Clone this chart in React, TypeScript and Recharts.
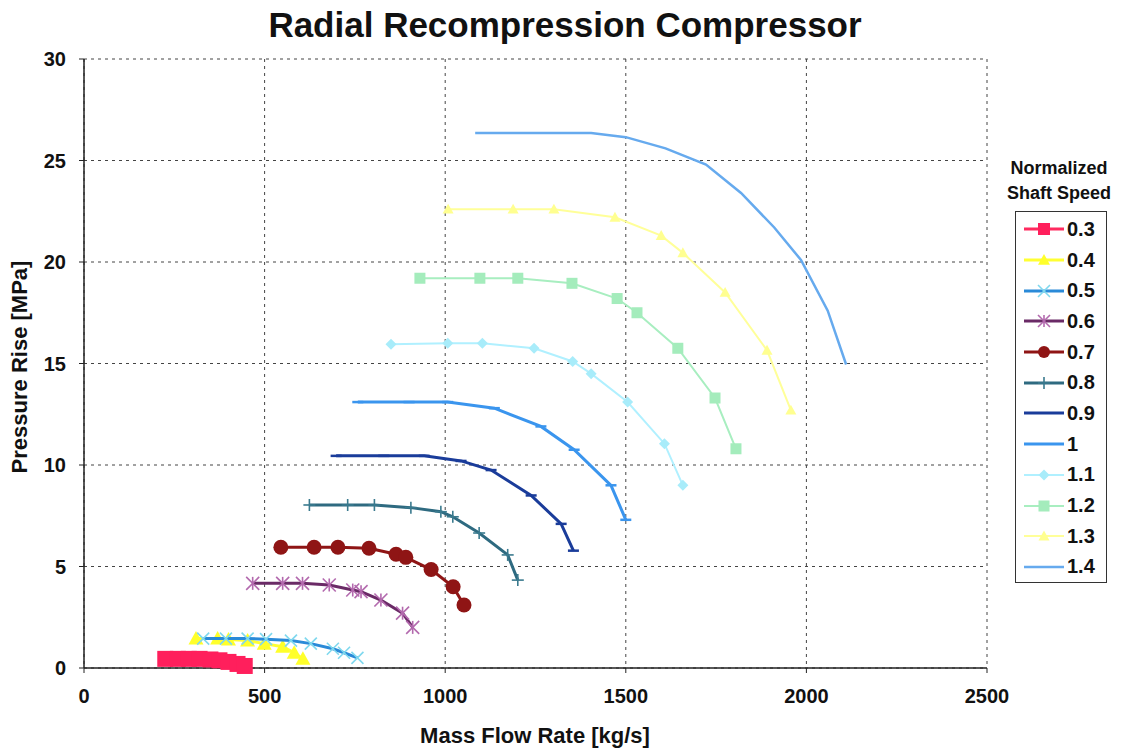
import { CartesianGrid, Scatter, ScatterChart, XAxis, YAxis } from "recharts";

const speeds = ["0.3", "0.4", "0.5", "0.6", "0.7", "0.8", "0.9", "1", "1.1", "1.2", "1.3", "1.4"];

const flow03 = [225, 260, 290, 320, 350, 375, 400, 425, 445];
const rise03 = [0.45, 0.45, 0.45, 0.45, 0.42, 0.38, 0.3, 0.2, 0.1];
const flow04 = [310, 370, 400, 453, 499, 550, 582, 606];
const rise04 = [1.45, 1.45, 1.4, 1.35, 1.2, 1.05, 0.75, 0.45];
const flow05 = [330, 393, 453, 504, 573, 628, 689, 720, 757];
const rise05 = [1.45, 1.45, 1.45, 1.42, 1.35, 1.2, 0.95, 0.75, 0.5];
const flow06 = [467, 550, 605, 679, 744, 767, 822, 882, 910];
const rise06 = [4.17, 4.17, 4.17, 4.09, 3.84, 3.76, 3.35, 2.7, 2.0];
const flow07 = [545, 637, 703, 789, 864, 891, 961, 1022, 1052];
const rise07 = [5.95, 5.95, 5.95, 5.9, 5.6, 5.45, 4.85, 4.0, 3.1];
const flow08 = [624, 730, 804, 905, 988, 1021, 1094, 1173, 1201];
const rise08 = [8.03, 8.03, 8.03, 7.9, 7.7, 7.45, 6.65, 5.57, 4.33];
const flow09 = [698, 830, 942, 1044, 1127, 1238, 1321, 1355];
const rise09 = [10.45, 10.45, 10.45, 10.2, 9.75, 8.5, 7.1, 5.78];
const flow10 = [758, 900, 1007, 1136, 1265, 1357, 1459, 1500];
const rise10 = [13.1, 13.1, 13.1, 12.8, 11.9, 10.75, 9.0, 7.3];
const flow11 = [850, 1007, 1103, 1246, 1353, 1404, 1505, 1607, 1658];
const rise11 = [15.95, 16.0, 16.0, 15.75, 15.1, 14.5, 13.1, 11.05, 9.0];
const flow12 = [930, 1096, 1201, 1351, 1476, 1531, 1644, 1747, 1805];
const rise12 = [19.2, 19.2, 19.2, 18.95, 18.2, 17.5, 15.75, 13.3, 10.8];
const flow13 = [1008, 1188, 1301, 1470, 1598, 1658, 1775, 1891, 1957];
const rise13 = [22.6, 22.6, 22.6, 22.2, 21.3, 20.45, 18.5, 15.65, 12.7];
const flow14 = [1083, 1250, 1404, 1500, 1610, 1722, 1819, 1911, 1985, 2059, 2110];
const rise14 = [26.35, 26.35, 26.35, 26.15, 25.6, 24.8, 23.4, 21.7, 20.1, 17.6, 14.95];

const flows = [flow03, flow04, flow05, flow06, flow07, flow08, flow09, flow10, flow11, flow12, flow13, flow14];
const rises = [rise03, rise04, rise05, rise06, rise07, rise08, rise09, rise10, rise11, rise12, rise13, rise14];

const xTicks = [0, 500, 1000, 1500, 2000, 2500];
const yTicks = [0, 5, 10, 15, 20, 25, 30];

type Style = { line: string; marker: string; kind: string; size: number; width: number };

const styles: Style[] = [
  { line: "#ff2a5f", marker: "#ff1f5c", kind: "square", size: 16, width: 3 },
  { line: "#ffff33", marker: "#ffff2a", kind: "triangle", size: 15, width: 3 },
  { line: "#2a8ad8", marker: "#7fd8ee", kind: "x", size: 12, width: 3 },
  { line: "#6a2a66", marker: "#b36aae", kind: "asterisk", size: 13, width: 3 },
  { line: "#8f1515", marker: "#8f1515", kind: "circle", size: 15, width: 3 },
  { line: "#2e6a80", marker: "#3a7a8e", kind: "plus", size: 12, width: 3 },
  { line: "#1a3c9a", marker: "#1a3c9a", kind: "dash", size: 11, width: 3 },
  { line: "#3a95ee", marker: "#3a95ee", kind: "dash", size: 11, width: 3 },
  { line: "#b0f0ff", marker: "#a8ecfa", kind: "diamond", size: 11, width: 2 },
  { line: "#a8eec0", marker: "#a4ecbc", kind: "square", size: 11, width: 2 },
  { line: "#ffff99", marker: "#ffff90", kind: "triangle", size: 11, width: 2 },
  { line: "#66aaee", marker: "#66aaee", kind: "none", size: 8, width: 2.5 },
];

const font = "Liberation Sans, Arial, sans-serif";

function markerSvg(kind: string, color: string, size: number, cx: number, cy: number) {
  const h = size / 2;
  switch (kind) {
    case "square":
      return <rect x={cx - h} y={cy - h} width={size} height={size} fill={color} />;
    case "triangle":
      return <polygon points={`${cx},${cy - h} ${cx + h},${cy + h * 0.8} ${cx - h},${cy + h * 0.8}`} fill={color} />;
    case "circle":
      return <circle cx={cx} cy={cy} r={h} fill={color} />;
    case "diamond":
      return <polygon points={`${cx},${cy - h} ${cx + h},${cy} ${cx},${cy + h} ${cx - h},${cy}`} fill={color} />;
    case "x":
      return (
        <g stroke={color} strokeWidth={1.6}>
          <line x1={cx - h} y1={cy - h} x2={cx + h} y2={cy + h} />
          <line x1={cx - h} y1={cy + h} x2={cx + h} y2={cy - h} />
        </g>
      );
    case "asterisk":
      return (
        <g stroke={color} strokeWidth={1.6}>
          <line x1={cx - h} y1={cy - h} x2={cx + h} y2={cy + h} />
          <line x1={cx - h} y1={cy + h} x2={cx + h} y2={cy - h} />
          <line x1={cx} y1={cy - h} x2={cx} y2={cy + h} />
        </g>
      );
    case "plus":
      return (
        <g stroke={color} strokeWidth={1.6}>
          <line x1={cx - h} y1={cy} x2={cx + h} y2={cy} />
          <line x1={cx} y1={cy - h} x2={cx} y2={cy + h} />
        </g>
      );
    case "dash":
      return <line x1={cx - h} y1={cy} x2={cx + h} y2={cy} stroke={color} strokeWidth={2.5} />;
    default:
      return <g />;
  }
}

const series = speeds.map((name, i) => ({
  name,
  style: styles[i],
  data: flows[i].map((x, j) => ({ x, y: rises[i][j] })),
}));

const tickStyle = { fontSize: 20, fontWeight: 700, fill: "#111", fontFamily: font };

function LegendBox() {
  return (
    <div style={{ position: "absolute", left: 994, top: 156, width: 130, fontFamily: font, color: "#111", fontWeight: 700 }}>
      <div style={{ textAlign: "center", fontSize: 18, lineHeight: "25px", width: 130 }}>
        Normalized
        <br />
        Shaft Speed
      </div>
      <div
        style={{
          position: "absolute",
          left: 21,
          top: 55,
          width: 92,
          height: 372,
          border: "1px solid #333",
          boxSizing: "border-box",
          paddingTop: 2,
        }}
      >
        {series.map((s) => (
          <div key={s.name} style={{ height: 30.7, display: "flex", alignItems: "center" }}>
            <svg width={44} height={20} style={{ marginLeft: 6 }}>
              <line x1={2} y1={10} x2={42} y2={10} stroke={s.style.line} strokeWidth={s.style.width} />
              {markerSvg(s.style.kind === "dash" ? "none" : s.style.kind, s.style.marker, Math.min(s.style.size, 12), 22, 10)}
            </svg>
            <span style={{ fontSize: 20, marginLeft: 1 }}>{s.name}</span>
          </div>
        ))}
      </div>
    </div>
  );
}

export default function App() {
  return (
    <div style={{ position: "absolute", left: 0, top: 0, width: 1121, height: 752, background: "#fff" }}>
      <div
        style={{
          position: "absolute",
          left: 0,
          width: 1130,
          top: 5,
          textAlign: "center",
          fontFamily: font,
          fontWeight: 700,
          fontSize: 35,
          color: "#111",
        }}
      >
        Radial Recompression Compressor
      </div>
      <div
        style={{
          position: "absolute",
          left: 385,
          width: 300,
          top: 723,
          textAlign: "center",
          fontFamily: font,
          fontWeight: 700,
          fontSize: 22,
          color: "#111",
        }}
      >
        Mass Flow Rate [kg/s]
      </div>
      <div
        style={{
          position: "absolute",
          left: 20 - 150,
          width: 300,
          top: 368 - 14,
          textAlign: "center",
          transform: "rotate(-90deg)",
          fontFamily: font,
          fontWeight: 700,
          fontSize: 22,
          color: "#111",
        }}
      >
        Pressure Rise [MPa]
      </div>
      <ScatterChart width={1121} height={752} margin={{ top: 59, right: 134, bottom: 44, left: 24 }}>
        <CartesianGrid stroke="#444" strokeDasharray="3 4" />
        <XAxis
          type="number"
          dataKey="x"
          domain={[0, 2500]}
          ticks={xTicks}
          height={40}
          tick={tickStyle}
          tickSize={5}
          tickMargin={16}
          stroke="#222"
          axisLine={{ stroke: "#222", strokeWidth: 1.5 }}
        />
        <YAxis
          type="number"
          dataKey="y"
          domain={[0, 30]}
          ticks={yTicks}
          width={60}
          tick={tickStyle}
          tickSize={5}
          tickMargin={13}
          stroke="#222"
          axisLine={{ stroke: "#222", strokeWidth: 1.5 }}
        />
        {series.map((s) => (
          <Scatter
            key={s.name}
            name={s.name}
            data={s.data}
            fill={s.style.marker}
            line={{ stroke: s.style.line, strokeWidth: s.style.width }}
            lineJointType="linear"
            isAnimationActive={false}
            shape={(p: any) => markerSvg(s.style.kind, s.style.marker, s.style.size, p.cx, p.cy)}
          />
        ))}
      </ScatterChart>
      <LegendBox />
    </div>
  );
}
